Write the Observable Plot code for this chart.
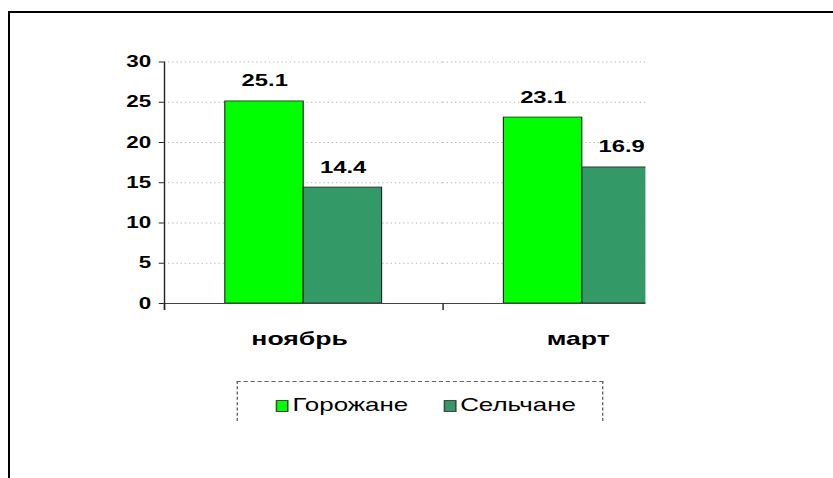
<!DOCTYPE html>
<html>
<head>
<meta charset="utf-8">
<script src="https://cdn.jsdelivr.net/npm/d3@7"></script>
<script src="https://cdn.jsdelivr.net/npm/@observablehq/plot@0.6"></script>
<style>
  html, body { margin: 0; padding: 0; background: #fff; width: 833px; height: 478px; overflow: hidden; }
  #page { position: relative; width: 833px; height: 478px; overflow: hidden; }
  #stretch { position: absolute; left: 0; top: 0; width: 595px; height: 478px; transform: scaleX(1.4); transform-origin: 0 0; font-family: "Liberation Sans", Arial, sans-serif; color: #000; }
  #chart { position: absolute; left: 0; top: 0; }
  #legend { position: absolute; left: 168.6px; top: 381px; width: 262px; height: 40px; border: 1px dashed #666; border-bottom: none; box-sizing: border-box; }
  .sw { position: absolute; top: 17.5px; width: 9.2px; height: 12px; border: 1px solid #444; box-sizing: border-box; }
  .lab { position: absolute; top: 12px; font-size: 18.5px; line-height: 22px; white-space: nowrap; }
  #frame { position: absolute; left: 8px; top: 11px; width: 900px; height: 600px; border-left: 2px solid #000; border-top: 2px solid #000; }
</style>
</head>
<body>
<div id="page">
  <div id="stretch">
    <div id="chart"></div>
    <div id="legend"></div>
  </div>
  <div id="frame"></div>
</div>
<script>
const categories = ["ноябрь", "март"];
const series = ["Горожане", "Сельчане"];
const gorozhane = [25.1, 23.1];
const selchane = [14.4, 16.9];
const yTicks = [0, 5, 10, 15, 20, 25, 30];
const colors = ["#00ff00", "#339966"];

const data = categories.flatMap((c, i) => [
  {category: c, series: series[0], value: gorozhane[i]},
  {category: c, series: series[1], value: selchane[i]}
]);

const SX = 1.4;
const W = 646 / SX;
const plotLeft = 163 / SX;
const band = 279 / SX;
const plotTop = 61.5, plotBottom = 303;

const chart = Plot.plot({
  width: W,
  height: 360,
  marginLeft: plotLeft,
  marginRight: 0,
  marginTop: plotTop,
  marginBottom: 360 - plotBottom,
  style: {background: "transparent", overflow: "hidden", fontFamily: "'Liberation Sans', Arial, sans-serif", color: "#000"},
  fx: {domain: categories, range: [plotLeft, plotLeft + 2 * band], padding: 0, axis: null, label: null},
  x: {domain: series, paddingInner: 0, paddingOuter: 0.76, axis: null, label: null},
  y: {domain: [0, 30], axis: null, label: null},
  color: {domain: series, range: colors},
  marks: [
    Plot.ruleY(yTicks.slice(1), {stroke: "#b8b8b8", strokeDasharray: "1,2"}),
    Plot.barY(data, {fx: "category", x: "series", y: "value", fill: "series", stroke: "#222", strokeWidth: 0.8}),
    Plot.ruleY([0], {stroke: "#444"}),
    Plot.frame({anchor: "left", facetAnchor: "left", insetBottom: -6, stroke: "#222"}),
    Plot.frame({anchor: "left", insetTop: plotBottom - plotTop, insetBottom: -6, stroke: "#222"}),
    Plot.axisY({ticks: yTicks, label: null, tickSize: 5 / SX, tickPadding: 6, fontSize: 16, fontWeight: "bold", tickFormat: d => String(d), stroke: "#222"}),
    Plot.axisFx({anchor: "bottom", label: null, tickSize: 0, tickPadding: 28, dx: -3, fontSize: 19, fontWeight: "bold"}),
    Plot.text(data, {fx: "category", x: "series", y: "value", text: d => d.value.toFixed(1), dy: -15, lineAnchor: "bottom", fontSize: 17, fontWeight: "bold", fill: "#000"})
  ]
});
document.getElementById("chart").appendChild(chart);

// legend
const legend = document.getElementById("legend");
const swLeft = [196 - 168.6, 315.7 - 168.6];
series.forEach((s, i) => {
  const sw = document.createElement("div");
  sw.className = "sw";
  sw.style.left = swLeft[i] + "px";
  sw.style.background = colors[i];
  legend.appendChild(sw);
  const lab = document.createElement("div");
  lab.className = "lab";
  lab.style.left = (swLeft[i] + 12) + "px";
  lab.textContent = s;
  legend.appendChild(lab);
});
</script>
</body>
</html>
